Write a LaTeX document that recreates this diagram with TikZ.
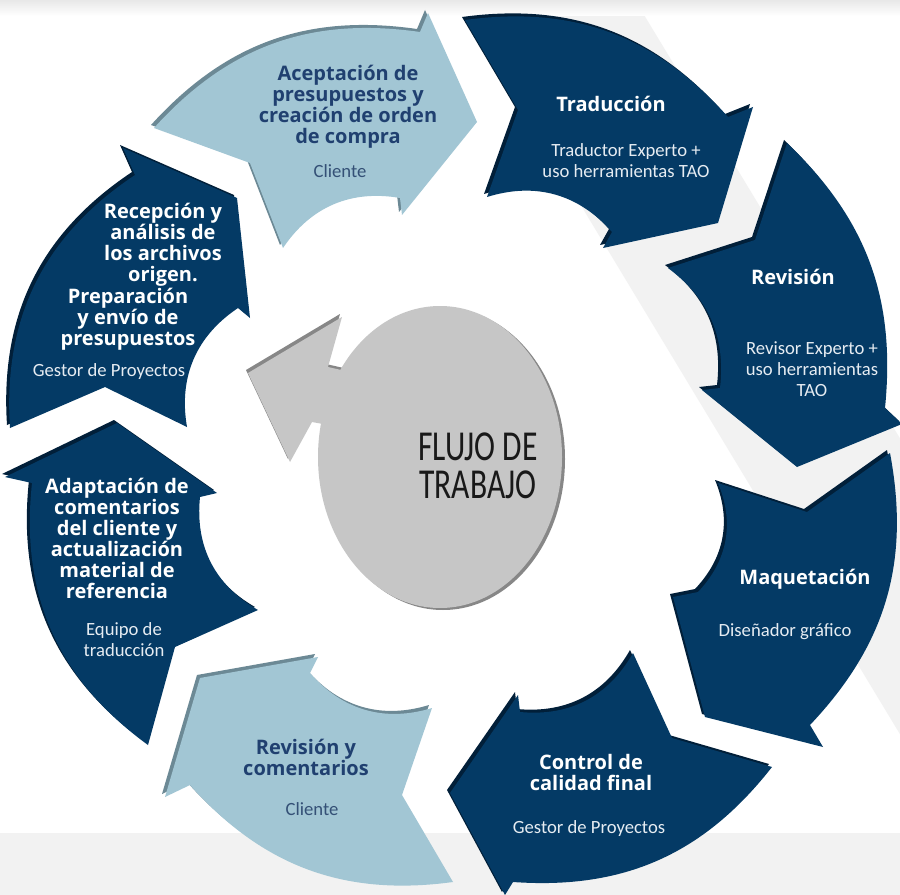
\documentclass[tikz,border=0pt]{standalone}
\usepackage{fontspec}
\setmainfont{Open Sans}
\newfontfamily\lightf{Carlito}
\newfontfamily\condf[FakeStretch=0.74]{Carlito}
\definecolor{navy}{RGB}{4,58,101}
\definecolor{navyedge}{RGB}{1,31,57}
\definecolor{lblue}{RGB}{162,198,212}
\definecolor{lblueedge}{RGB}{108,137,149}
\definecolor{bandgray}{RGB}{242,242,242}
\definecolor{cgray}{RGB}{198,198,198}
\definecolor{cgrayedge}{RGB}{135,135,135}
\definecolor{ltext}{RGB}{32,64,112}
\definecolor{ltextlight}{RGB}{52,80,118}
\definecolor{wtext}{RGB}{230,236,242}
\definecolor{ctext}{RGB}{25,25,25}
\tikzset{
  boldtxt/.style={font=\bfseries\fontsize{15}{15.75}\selectfont, align=center, inner sep=0pt},
  lighttxt/.style={font=\lightf\fontsize{14}{15.75}\selectfont, align=center, inner sep=0pt},
  centertxt/.style={font=\condf\fontsize{32}{27}\selectfont, text=ctext, inner sep=0pt, anchor=base},
  ondark/.style={text=white},
  ondarklight/.style={text=wtext},
  onlight/.style={text=ltext},
  onlightlight/.style={text=ltextlight},
  darkfill/.style={fill=navy},
  darkrim/.style={fill=navyedge, shift={(-3,-3)}},
  lightfill/.style={fill=lblue},
  lightrim/.style={fill=lblueedge, shift={(-3,-3)}},
}
\def\shA{(154,128) to[bend left=28] (420,32) -- (428,13) -- (477,122) -- (402,215) -- (400,198) to[bend right=33] (283,248) -- (250,163) -- cycle}
\def\shB{(465,20) to[bend left=28] (728,117) -- (753,107) -- (718,223) -- (603,248) -- (612,232) to[bend right=33] (487,197) -- (518,110) -- cycle}
\def\shC{(787,143) to[bend left=26] (885,408) -- (902,424) -- (797,467) -- (702,390) -- (720,388) to[bend right=30] (668,268) -- (755,240) -- cycle}
\def\shD{(890,453) to[bend left=27] (810,725) -- (823,747) -- (705,717) -- (673,597) -- (698,592) to[bend right=33] (718,483) -- (807,512) -- cycle}
\def\shE{(772,767) to[bend left=28] (513,882) -- (505,895) -- (450,793) -- (518,695) -- (520,712) to[bend right=33] (633,653) -- (672,738) -- cycle}
\def\shF{(453,882) to[bend left=28] (190,785) -- (165,797) -- (200,678) -- (318,657) -- (310,673) to[bend right=33] (432,708) -- (402,795) -- cycle}
\def\shG{(148,745) to[bend left=30] (32,483) -- (5,477) -- (117,423) -- (217,493) -- (200,497) to[bend right=33] (258,610) -- (175,647) -- cycle}
\def\shH{(10,428) to[bend left=30] (135,175) -- (123,148) -- (237,198) -- (250,318) -- (238,308) to[bend right=33] (187,427) -- (105,387) -- cycle}
\def\shArrow{(350,372) -- (328,367) -- (342,317) -- (248,373) -- (290,462) -- (312,422) -- (345,428) -- cycle}
\begin{document}
\begin{tikzpicture}[x=0.75pt, y=-0.75pt]
\useasboundingbox (0,0) rectangle (900,895);
\fill[white] (0,0) rectangle (900,895);
\begin{scope}
  \clip (0,0) rectangle (900,895);
  \fill[bandgray] (457,0) -- (635,0) -- (1176,895) -- (997,895) -- cycle;
  \fill[bandgray] (0,833) rectangle (900,895);
  \shade[top color=black!9, bottom color=white] (0,0) rectangle (900,16);
\end{scope}
% ring segments
\fill[lightrim] \shA; \fill[lightfill] \shA;
\fill[darkrim] \shB;  \fill[darkfill] \shB;
\fill[darkrim] \shC;  \fill[darkfill] \shC;
\fill[darkrim] \shD;  \fill[darkfill] \shD;
\fill[darkrim] \shE;  \fill[darkfill] \shE;
\fill[lightrim] \shF; \fill[lightfill] \shF;
\fill[darkrim] \shG;  \fill[darkfill] \shG;
\fill[darkrim] \shH;  \fill[darkfill] \shH;
% central arrow and circle
\fill[cgrayedge, shift={(-2,-3)}] \shArrow;
\fill[cgray] \shArrow;
\fill[cgrayedge] (443,459) ellipse [x radius=91.5pt, y radius=113.25pt];
\fill[cgray] (440,457) ellipse [x radius=91.5pt, y radius=113.25pt];
\node[centertxt] (flujo1) at (478,460) {FLUJO DE};
\node[centertxt] (flujo2) at (478,498) {TRABAJO};
% texts
\node[boldtxt, onlight] (tA) at (348,107) {Aceptación de\\presupuestos y\\creación de orden\\de compra};
\node[lighttxt, onlightlight] (sA) at (340,171) {Cliente};
\node[boldtxt, ondark] (tB) at (611,104) {Traducción};
\node[lighttxt, ondarklight] (sB) at (626,161) {Traductor Experto +\\uso herramientas TAO};
\node[boldtxt, ondark] (tC) at (793,277) {Revisión};
\node[lighttxt, ondarklight] (sC) at (812,369) {Revisor Experto +\\uso herramientas\\TAO};
\node[boldtxt, ondark] (tD) at (805,579) {Maquetación};
\node[lighttxt, ondarklight] (sD) at (785,632) {Diseñador gráfico};
\node[boldtxt, ondark] (tE) at (591,772) {Control de\\calidad final};
\node[lighttxt, ondarklight] (sE) at (589,829) {Gestor de Proyectos};
\node[boldtxt, onlight] (tF) at (306,757) {Revisión y\\comentarios};
\node[lighttxt, onlightlight] (sF) at (312,809) {Cliente};
\node[boldtxt, ondark] (tG) at (117,538) {Adaptación de\\comentarios\\del cliente y\\actualización\\material de\\referencia};
\node[lighttxt, ondarklight] (sG) at (124,640) {Equipo de\\traducción};
\node[boldtxt, ondark] (tH1) at (163,245) {Recepción y\\análisis de\\los archivos\\origen.};
\node[boldtxt, ondark] (tH2) at (128,319) {Preparación\\y envío de\\presupuestos};
\node[lighttxt, ondarklight] (sH) at (109,372) {Gestor de Proyectos};
\end{tikzpicture}
\end{document}
